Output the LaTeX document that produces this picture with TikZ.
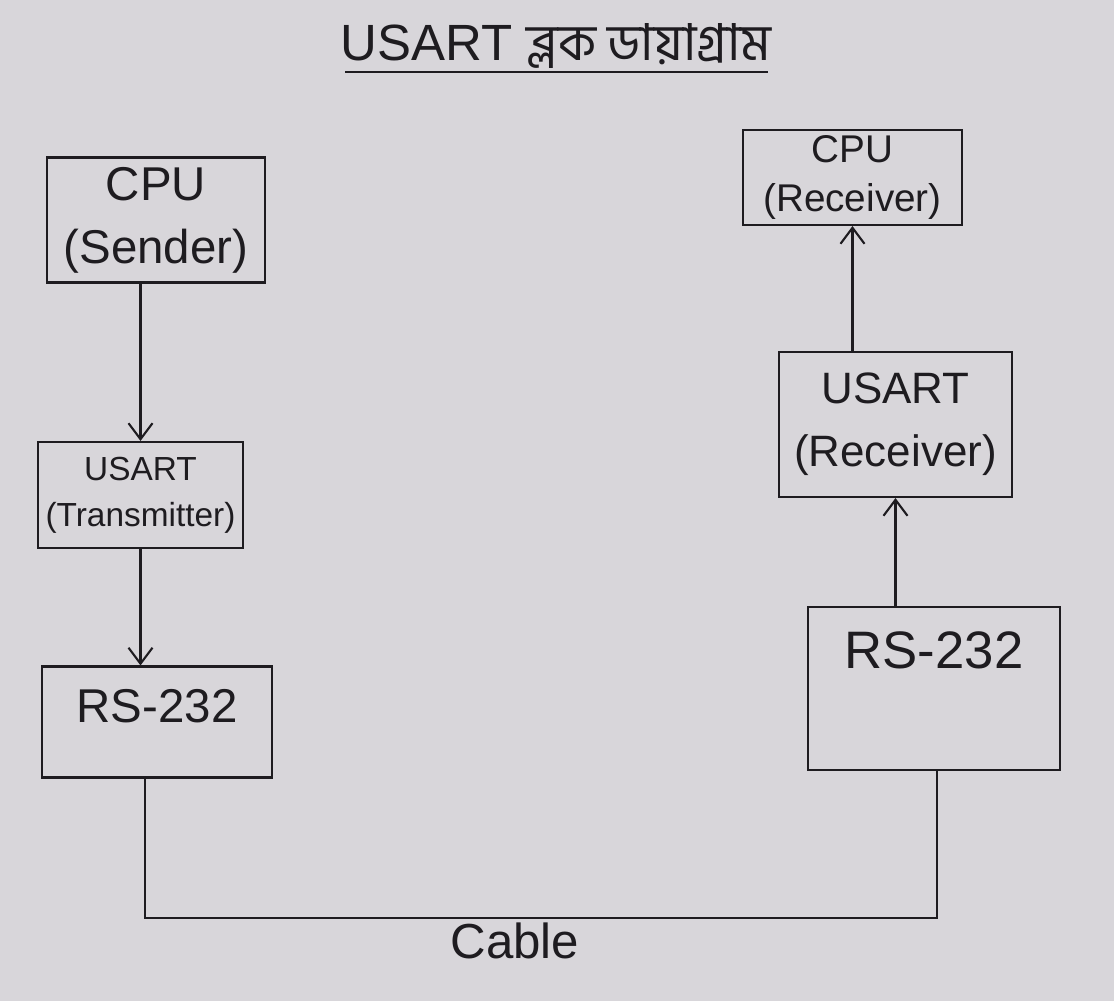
\documentclass[tikz,border=0pt]{standalone}
\usepackage{fontspec}
\setmainfont{Liberation Sans}
\newfontfamily\bnfont[Script=Bengali]{Hind Siliguri}
\usepackage{tikz}
\usetikzlibrary{arrows.meta}
\definecolor{paper}{RGB}{216,214,218}
\definecolor{ink}{RGB}{30,28,32}

\begin{document}
\begin{tikzpicture}[
	>={Straight Barb[length=1.6mm,width=2.4mm]},
	blk/.style={draw=ink, semithick, align=center, text=ink, inner sep=1pt},
	arr/.style={->, semithick, draw=ink},
	wire/.style={semithick, draw=ink}]
	\fill[paper] (0,0) rectangle (11.14,10.01);
	\useasboundingbox (0,0) rectangle (11.14,10.01);
	%\draw[help lines] (0,0) grid (11,10);
	% title
	\node[text=ink, anchor=base, font=\fontsize{14.5}{18}\selectfont] (title) at (5.56,9.40) {USART {\bnfont ব্লক ডায়াগ্রাম}};
	\draw[wire] (3.45,9.29)--(7.68,9.29);
	% sender side
	\node[blk, minimum width=2.18cm, minimum height=1.25cm, font=\fontsize{13.5}{18}\selectfont] (cpuS) at (1.56,7.81) {CPU\\(Sender)};
	\node[blk, minimum width=2.05cm, minimum height=1.06cm, font=\fontsize{9.5}{13}\selectfont] (usartT) at (1.405,5.06) {USART\\(Transmitter)};
	\node[blk, minimum width=2.30cm, minimum height=1.11cm, text height=0.35cm, text depth=0.35cm, font=\fontsize{13.5}{16}\selectfont] (rsL) at (1.57,2.79) {RS-232};
	% receiver side
	\node[blk, minimum width=2.19cm, minimum height=0.95cm, font=\fontsize{11}{14}\selectfont] (cpuR) at (8.525,8.235) {CPU\\(Receiver)};
	\node[blk, minimum width=2.33cm, minimum height=1.45cm, font=\fontsize{12.5}{18}\selectfont] (usartR) at (8.955,5.765) {USART\\(Receiver)};
	\node[blk, minimum width=2.52cm, minimum height=1.63cm, text height=0.4cm, text depth=0.8cm, font=\fontsize{15}{18}\selectfont] (rsR) at (9.34,3.125) {RS-232};
	% arrows
	\draw[arr] (cpuS.south -| usartT.north)--(usartT.north);
	\draw[arr] (usartT.south)--(usartT.south |- rsL.north);
	\draw[arr] (rsR.north -| usartR.south)--(usartR.south);
	\draw[arr] (cpuR.south |- usartR.north)--(cpuR.south);
	% cable
	\coordinate (cableL) at (1.45,0.83);
	\coordinate (cableR) at (9.37,0.83);
	\draw[wire] (rsL.south -| cableL)--(cableL)--(cableR)--(rsR.south -| cableR);
	\node[text=ink, font=\fontsize{14}{17}\selectfont] (cable) at (5.15,0.60) {Cable};
\end{tikzpicture}
\end{document}
